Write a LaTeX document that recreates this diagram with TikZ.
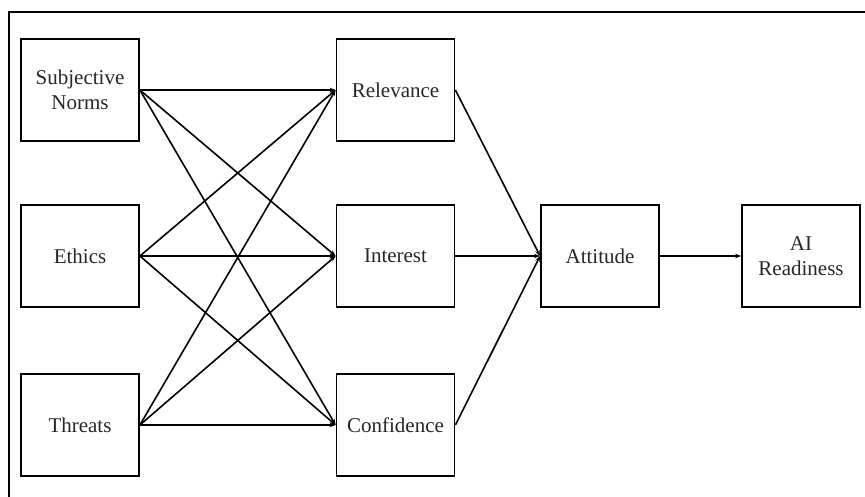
\documentclass[tikz,border=0pt]{standalone}
\usepackage{fontspec}
\setmainfont{Liberation Serif}
\usetikzlibrary{arrows.meta}
\begin{document}
\begin{tikzpicture}[x=1pt,y=-1pt,
  box/.style={draw, line width=1.8pt, minimum width=118pt, minimum height=102pt, inner sep=0pt, align=center, font=\fontsize{21}{25}\selectfont, text=black!85},
  link/.style={line width=1.6pt, -{Stealth[length=6pt,width=4.5pt]}}]
\useasboundingbox (0,0) rectangle (865,497);
\draw[line width=1.5pt] (9,497) -- (9,12) -- (865,12);
\node[box] (sn) at (80,90) {Subjective\\Norms};
\node[box] (et) at (80,256) {Ethics};
\node[box] (th) at (80,425) {Threats};
\node[box] (re) at (395.5,90) {Relevance};
\node[box] (in) at (395.5,256) {Interest};
\node[box] (co) at (395.5,425) {Confidence};
\node[box] (at) at (600,256) {Attitude};
\node[box] (ai) at (801,256) {AI\\Readiness};
\foreach \s in {sn,et,th}{
  \foreach \t in {re,in,co}{
    \draw[link] (\s.east) -- (\t.west);
  }
}
\foreach \s in {re,in,co}{
  \draw[link] (\s.east) -- (at.west);
}
\draw[link] (at.east) -- (ai.west);
\end{tikzpicture}
\end{document}
